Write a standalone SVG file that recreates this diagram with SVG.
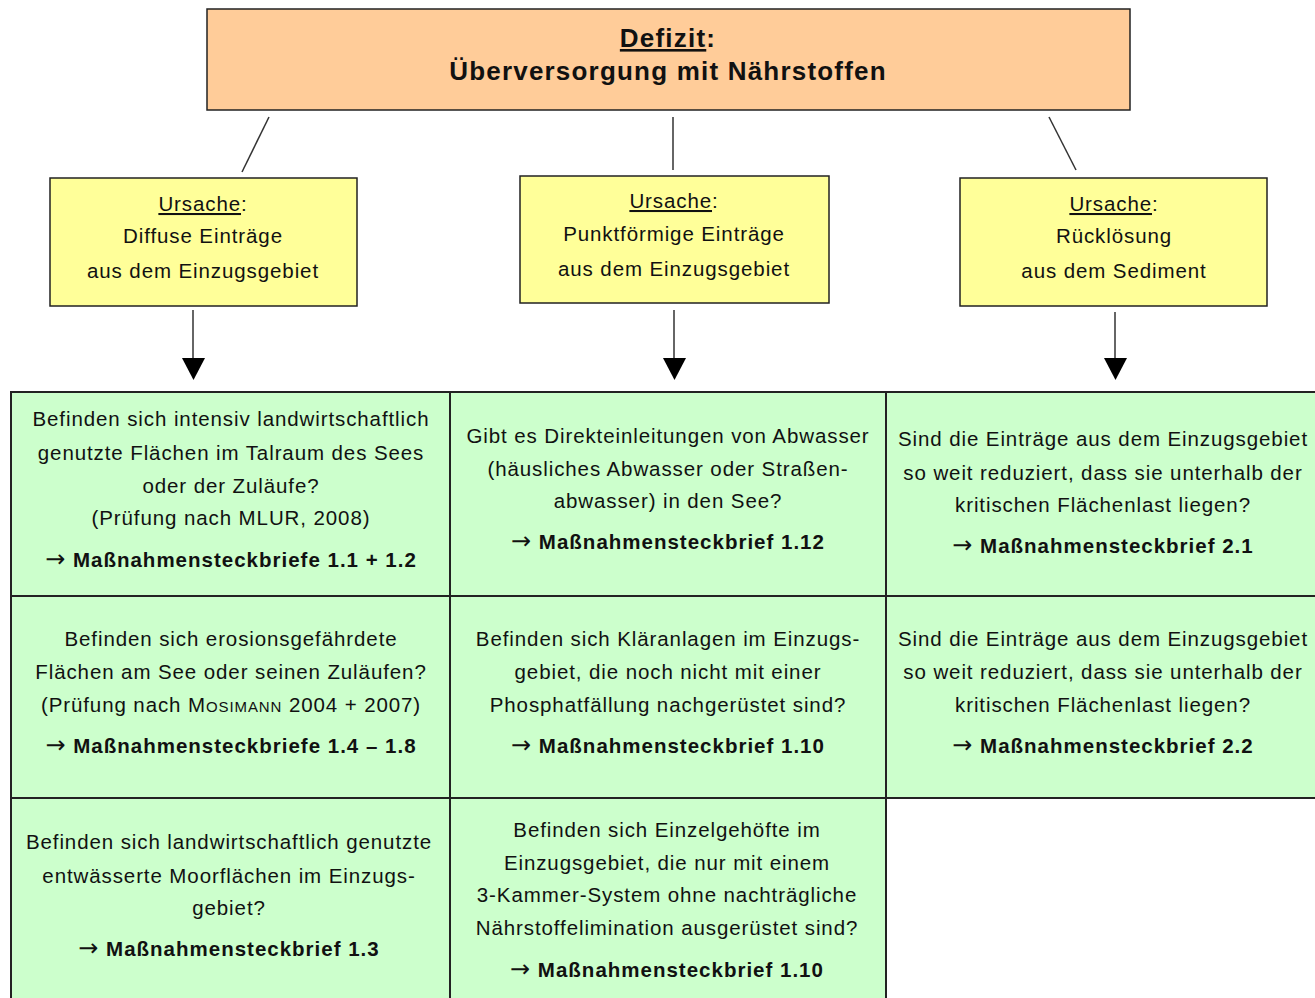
<svg xmlns="http://www.w3.org/2000/svg" width="1315" height="998" viewBox="0 0 1315 998">
<style>
.t{font-family:"Liberation Sans",Arial,sans-serif;font-size:20.5px;letter-spacing:0.9px;fill:#111;text-anchor:middle}
.b{font-weight:bold;letter-spacing:1px}
.h{font-size:26px;letter-spacing:1.2px}
.ar{font-family:"DejaVu Sans",sans-serif;font-weight:normal;font-size:24px}
.box{stroke:#222;stroke-width:1.5}
.cell{fill:#CCFFCC;stroke:#222;stroke-width:2}
.con{stroke:#333;stroke-width:1.5;fill:none}
.u{text-decoration:underline}
</style>
<rect width="1315" height="998" fill="#fff"/>
<g id="connectors">
<line class="con" x1="269" y1="117" x2="242" y2="172"/>
<line class="con" x1="673" y1="117" x2="673" y2="170"/>
<line class="con" x1="1049" y1="117" x2="1076" y2="170"/>
<line class="con" x1="193" y1="310" x2="193" y2="360"/>
<polygon points="182,358 205,358 193.5,380" fill="#000"/>
<line class="con" x1="674" y1="310" x2="674" y2="360"/>
<polygon points="663,358 686,358 674.5,380" fill="#000"/>
<line class="con" x1="1115" y1="312" x2="1115" y2="360"/>
<polygon points="1104,358 1127,358 1115.5,380" fill="#000"/>
</g>
<g id="defizit">
<rect class="box" x="207" y="9" width="923" height="101" fill="#FFCC99"/>
<text class="t b h" x="668" y="47"><tspan class="u">Defizit</tspan>:</text>
<text class="t b h" x="668" y="80">Überversorgung mit Nährstoffen</text>
</g>
<g id="ursache1">
<rect class="box" x="50" y="178" width="307" height="128" fill="#FFFF99"/>
<text class="t" x="203" y="211"><tspan class="u">Ursache</tspan>:</text>
<text class="t" x="203" y="243">Diffuse Einträge</text>
<text class="t" x="203" y="278">aus dem Einzugsgebiet</text>
</g>
<g id="ursache2">
<rect class="box" x="520" y="176" width="309" height="127" fill="#FFFF99"/>
<text class="t" x="674" y="208"><tspan class="u">Ursache</tspan>:</text>
<text class="t" x="674" y="241">Punktförmige Einträge</text>
<text class="t" x="674" y="276">aus dem Einzugsgebiet</text>
</g>
<g id="ursache3">
<rect class="box" x="960" y="178" width="307" height="128" fill="#FFFF99"/>
<text class="t" x="1114" y="211"><tspan class="u">Ursache</tspan>:</text>
<text class="t" x="1114" y="243">Rücklösung</text>
<text class="t" x="1114" y="278">aus dem Sediment</text>
</g>
<g id="cell-1-1">
<rect class="cell" x="11" y="392" width="439" height="204"/>
<text class="t" x="231" y="426">Befinden sich intensiv landwirtschaftlich</text>
<text class="t" x="231" y="460">genutzte Flächen im Talraum des Sees</text>
<text class="t" x="231" y="493">oder der Zuläufe?</text>
<text class="t" x="231" y="525">(Prüfung nach MLUR, 2008)</text>
<text class="t b" x="231" y="567"><tspan class="ar">→</tspan> Maßnahmensteckbriefe 1.1 + 1.2</text>
</g>
<g id="cell-1-2">
<rect class="cell" x="450" y="392" width="436" height="204"/>
<text class="t" x="668" y="443">Gibt es Direkteinleitungen von Abwasser</text>
<text class="t" x="668" y="476">(häusliches Abwasser oder Straßen-</text>
<text class="t" x="668" y="508">abwasser) in den See?</text>
<text class="t b" x="668" y="549"><tspan class="ar">→</tspan> Maßnahmensteckbrief 1.12</text>
</g>
<g id="cell-1-3">
<rect class="cell" x="886" y="392" width="440" height="204"/>
<text class="t" x="1103" y="446">Sind die Einträge aus dem Einzugsgebiet</text>
<text class="t" x="1103" y="480">so weit reduziert, dass sie unterhalb der</text>
<text class="t" x="1103" y="512">kritischen Flächenlast liegen?</text>
<text class="t b" x="1103" y="553"><tspan class="ar">→</tspan> Maßnahmensteckbrief 2.1</text>
</g>
<g id="cell-2-1">
<rect class="cell" x="11" y="596" width="439" height="202"/>
<text class="t" x="231" y="646">Befinden sich erosionsgefährdete</text>
<text class="t" x="231" y="679">Flächen am See oder seinen Zuläufen?</text>
<text class="t" x="231" y="712">(Prüfung nach M<tspan style="font-size:15px">OSIMANN</tspan> 2004 + 2007)</text>
<text class="t b" x="231" y="753"><tspan class="ar">→</tspan> Maßnahmensteckbriefe 1.4 – 1.8</text>
</g>
<g id="cell-2-2">
<rect class="cell" x="450" y="596" width="436" height="202"/>
<text class="t" x="668" y="646">Befinden sich Kläranlagen im Einzugs-</text>
<text class="t" x="668" y="679">gebiet, die noch nicht mit einer</text>
<text class="t" x="668" y="712">Phosphatfällung nachgerüstet sind?</text>
<text class="t b" x="668" y="753"><tspan class="ar">→</tspan> Maßnahmensteckbrief 1.10</text>
</g>
<g id="cell-2-3">
<rect class="cell" x="886" y="596" width="440" height="202"/>
<text class="t" x="1103" y="646">Sind die Einträge aus dem Einzugsgebiet</text>
<text class="t" x="1103" y="679">so weit reduziert, dass sie unterhalb der</text>
<text class="t" x="1103" y="712">kritischen Flächenlast liegen?</text>
<text class="t b" x="1103" y="753"><tspan class="ar">→</tspan> Maßnahmensteckbrief 2.2</text>
</g>
<g id="cell-3-1">
<rect class="cell" x="11" y="798" width="439" height="210"/>
<text class="t" x="229" y="849">Befinden sich landwirtschaftlich genutzte</text>
<text class="t" x="229" y="883">entwässerte Moorflächen im Einzugs-</text>
<text class="t" x="229" y="915">gebiet?</text>
<text class="t b" x="229" y="956"><tspan class="ar">→</tspan> Maßnahmensteckbrief 1.3</text>
</g>
<g id="cell-3-2">
<rect class="cell" x="450" y="798" width="436" height="210"/>
<text class="t" x="667" y="837">Befinden sich Einzelgehöfte im</text>
<text class="t" x="667" y="870">Einzugsgebiet, die nur mit einem</text>
<text class="t" x="667" y="902">3-Kammer-System ohne nachträgliche</text>
<text class="t" x="667" y="935">Nährstoffelimination ausgerüstet sind?</text>
<text class="t b" x="667" y="977"><tspan class="ar">→</tspan> Maßnahmensteckbrief 1.10</text>
</g>
</svg>
